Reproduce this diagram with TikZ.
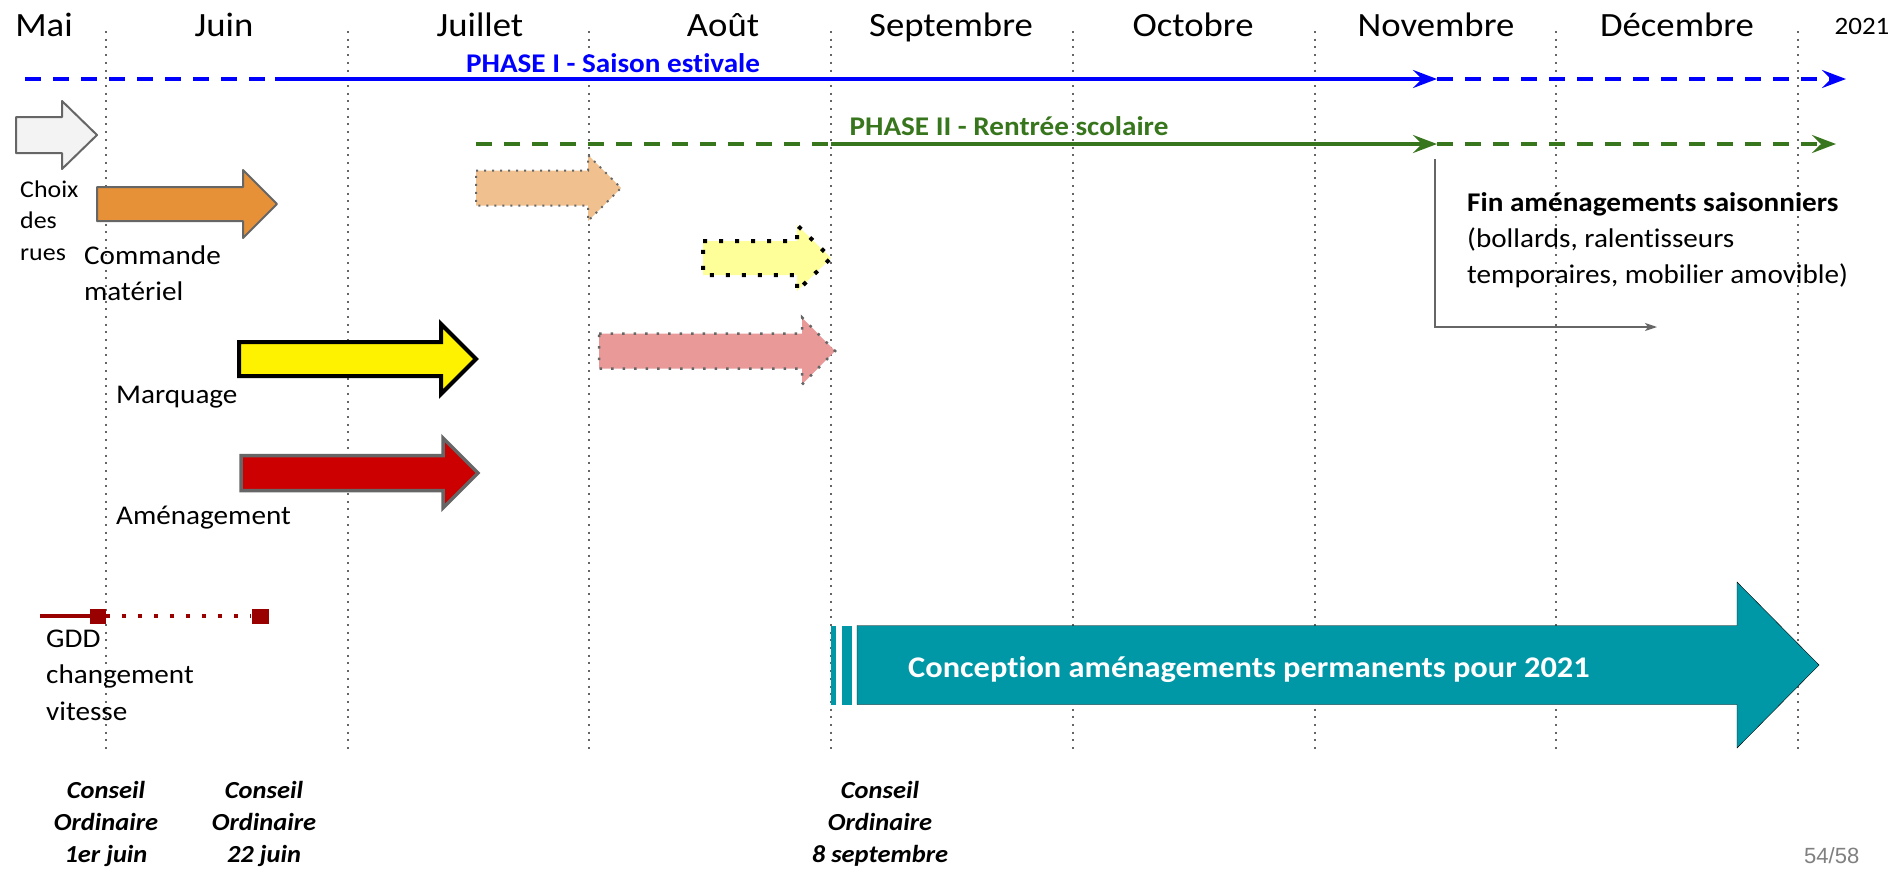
\documentclass[tikz,border=0pt]{standalone}
\usepackage{fontspec}
\setmainfont{Carlito}[FakeStretch=1.08,Ligatures=NoCommon]
\newfontfamily\pagefont{Liberation Sans}
\usetikzlibrary{arrows.meta}
\definecolor{phaseblue}{RGB}{0,0,255}
\definecolor{phasegreen}{RGB}{56,118,29}
\definecolor{frame}{RGB}{102,102,102}
\definecolor{choixfill}{RGB}{243,243,243}
\definecolor{commandefill}{RGB}{230,145,56}
\definecolor{orangepale}{RGB}{240,193,143}
\definecolor{yellowpale}{RGB}{255,255,153}
\definecolor{amenagefill}{RGB}{204,0,0}
\definecolor{pinkpale}{RGB}{234,153,153}
\definecolor{conceptfill}{RGB}{0,151,167}
\definecolor{gddred}{RGB}{153,0,0}
% block arrow: [style] x start, x head, x tip, y centre, half body, half head
\newcommand\blockarrow[7][]{%
  \draw[#1] (#2,#5-#6) -- (#3,#5-#6) -- (#3,#5-#7) -- (#4,#5)
    -- (#3,#5+#7) -- (#3,#5+#6) -- (#2,#5+#6) -- cycle;}

\begin{document}
\begin{tikzpicture}[x=1pt,y=-1pt,
    month/.style={anchor=base,inner sep=0pt,font=\fontsize{34}{40}\selectfont},
    lbl/.style={anchor=base west,inner sep=0pt,align=left,font=\fontsize{27}{35.5}\selectfont},
    conseil/.style={anchor=base,inner sep=0pt,align=center,font=\fontsize{24.5}{32}\selectfont\bfseries\itshape},
    phase/.style={anchor=base,inner sep=0pt,font=\fontsize{27}{30}\selectfont\bfseries},
    vline/.style={frame,line width=2pt,dash pattern=on 2pt off 5.7pt},
    phaseone/.style={phaseblue,line width=3.5pt},
    phasetwo/.style={phasegreen,line width=3.5pt},
    longdash/.style={dash pattern=on 16pt off 12pt},
    bigtip/.style={-{Stealth[length=24pt,width=18pt,inset=9pt]}},
    plain/.style={draw=frame,line width=2pt,line join=round},
    pale/.style={draw=frame,line width=2.5pt,dash pattern=on 2.5pt off 9pt},
    gdd/.style={gddred,line width=4pt}]
  \fill[white] (0,0) rectangle (1895,868);
  \useasboundingbox (0,0) rectangle (1895,868);

  \foreach \i in {0,...,7}
    \draw[vline] ({106+241.7*\i},31) -- ++(0,721);

  \foreach \m/\x [count=\i] in {Mai/44,Juin/224,Juillet/480,Août/723,
      Septembre/951,Octobre/1193,Novembre/1436,Décembre/1677}
    \node[month] (month\i) at (\x,36) {\m};
  \node[anchor=base,inner sep=0pt,font=\fontsize{25}{30}\selectfont] (year) at (1862,34) {2021};

  \coordinate (p1a) at (25,79);   \coordinate (p1b) at (265,79);
  \coordinate (p1c) at (275,79);  \coordinate (p1d) at (1437,79);
  \coordinate (p1e) at (1846,79);
  \draw[phaseone,longdash] (p1a) -- (p1b);
  \draw[phaseone,bigtip] (p1c) -- (p1d);
  \draw[phaseone,longdash,bigtip] (p1d) -- (p1e);
  \node[phase,phaseblue] (phase1) at (613,72) {PHASE I - Saison estivale};

  \coordinate (p2a) at (476,144); \coordinate (p2b) at (831,144);
  \coordinate (p2c) at (1437,144); \coordinate (p2d) at (1836,144);
  \draw[phasetwo,longdash] (p2a) -- (p2b);
  \draw[phasetwo,bigtip] (p2b) -- (p2c);
  \draw[phasetwo,longdash,bigtip] (p2c) -- (p2d);
  \node[phase,phasegreen] (phase2) at (1009,135) {PHASE II - Rentrée scolaire};

  \coordinate (finA) at (1435,159); \coordinate (finB) at (1657,327);
  \draw[frame,line width=1.5pt,-{Stealth[length=12pt,width=8pt,inset=3pt]}] (finA) |- (finB);
  % multi-line labels: placed by the baseline of their last line
  \node[lbl,font=\fontsize{27}{36}\selectfont] (fin) at (1467,283)
    {\textbf{Fin aménagements saisonniers}\\(bollards, ralentisseurs\\temporaires, mobilier amovible)};

  \blockarrow[plain,fill=choixfill]{16}{62}{97}{135}{18}{34}
  \blockarrow[plain,fill=commandefill]{97}{243}{277}{204}{17}{34}
  \blockarrow[draw=black,line width=4pt,fill=yellow]{239}{441}{476}{359}{17}{35}
  \blockarrow[draw=frame,line width=3.5pt,fill=amenagefill]{241}{443}{478}{473}{17.5}{35}
  \blockarrow[fill=orangepale,draw=frame,line width=2pt,dash pattern=on 2pt off 6pt]{476}{588}{621}{188}{17.5}{33}
  \blockarrow[fill=yellowpale,draw=black,line width=4pt,dash pattern=on 4pt off 12pt]{703}{797}{831}{258}{17}{33}
  \blockarrow[pale,fill=pinkpale]{599}{802}{835}{351}{17.5}{33.5}

  \node[lbl,font=\fontsize{24}{31.5}\selectfont] (choix) at (20,260) {Choix\\des\\rues};
  \node[lbl] (commande) at (84,300) {Commande\\matériel};
  \node[lbl] (marquage) at (116,403) {Marquage};
  \node[lbl] (amenage) at (116,524) {Aménagement};

  \coordinate (gdd0) at (40,616);
  \node[fill=gddred,minimum width=16pt,minimum height=15pt,inner sep=0pt] (gdd1) at (98,616) {};
  \node[fill=gddred,minimum width=17pt,minimum height=15pt,inner sep=0pt] (gdd2) at (260,616) {};
  \draw[gdd] (gdd0) -- (gdd1);
  \draw[gdd,dash pattern=on 4pt off 12pt] (gdd1.east) -- (gdd2.west);
  \node[lbl,font=\fontsize{27}{36.5}\selectfont] (gdd) at (46,720) {GDD\\changement\\vitesse};

  \fill[conceptfill] (831,626) rectangle (836,705);
  \fill[conceptfill] (842,626) rectangle (852,705);
  \blockarrow[fill=conceptfill]{857}{1737}{1819}{665}{39.5}{83}
  \node[anchor=base west,inner sep=0pt,white,font=\fontsize{30}{34}\selectfont\bfseries] (concept)
    at (908,677) {Conception aménagements permanents pour 2021};

  \node[conseil] (cons1) at (106,862) {Conseil\\Ordinaire\\1er juin};
  \node[conseil] (cons2) at (264,862) {Conseil\\Ordinaire\\22 juin};
  \node[conseil] (cons3) at (880,862) {Conseil\\Ordinaire\\8 septembre};

  \node[anchor=base west,inner sep=0pt,gray,font=\pagefont\fontsize{22}{24}\selectfont] (page)
    at (1804,863) {54/58};
\end{tikzpicture}
\end{document}
